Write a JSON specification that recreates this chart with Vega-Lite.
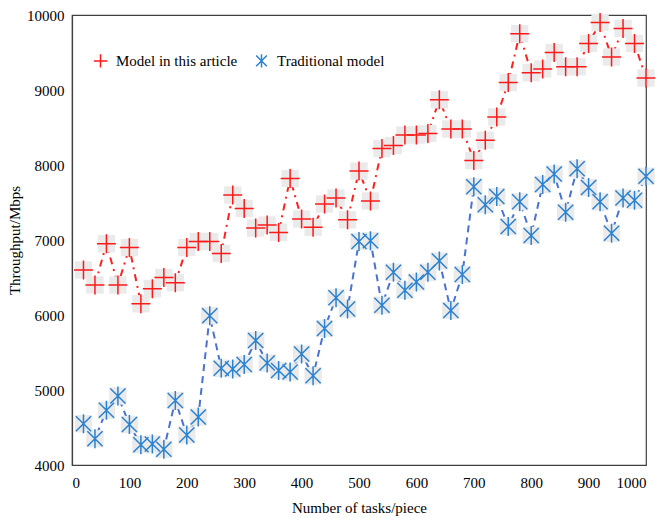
{
  "$schema": "https://vega.github.io/schema/vega-lite/v6.json",
  "autosize": "none",
  "width": 574,
  "height": 450,
  "padding": {"left": 72, "top": 15, "right": 15, "bottom": 53},
  "background": "white",
  "config": {
    "view": {"stroke": "#404040", "strokeWidth": 1.2},
    "font": "Times New Roman",
    "axis": {"labelFont": "Times New Roman", "titleFont": "Times New Roman", "labelFontSize": 15, "titleFontSize": 15, "titleFontWeight": "normal", "labelColor": "#000", "titleColor": "#000", "grid": false, "ticks": false, "domainColor": "#404040", "domainWidth": 1.2, "format": "d"},
    "legend": {"labelFont": "Times New Roman"}
  },
  "data": {"values": [
    {"x":20,"series":"Model in this article","y":6600},{"x":40,"series":"Model in this article","y":6400},{"x":60,"series":"Model in this article","y":6950},{"x":80,"series":"Model in this article","y":6400},{"x":100,"series":"Model in this article","y":6900},{"x":120,"series":"Model in this article","y":6150},{"x":140,"series":"Model in this article","y":6350},{"x":160,"series":"Model in this article","y":6500},{"x":180,"series":"Model in this article","y":6430},{"x":200,"series":"Model in this article","y":6900},{"x":220,"series":"Model in this article","y":6980},{"x":240,"series":"Model in this article","y":6980},{"x":260,"series":"Model in this article","y":6820},{"x":280,"series":"Model in this article","y":7600},{"x":300,"series":"Model in this article","y":7420},{"x":320,"series":"Model in this article","y":7160},{"x":340,"series":"Model in this article","y":7200},{"x":360,"series":"Model in this article","y":7100},{"x":380,"series":"Model in this article","y":7820},{"x":400,"series":"Model in this article","y":7280},{"x":420,"series":"Model in this article","y":7170},{"x":440,"series":"Model in this article","y":7480},{"x":460,"series":"Model in this article","y":7560},{"x":480,"series":"Model in this article","y":7270},{"x":500,"series":"Model in this article","y":7920},{"x":520,"series":"Model in this article","y":7520},{"x":540,"series":"Model in this article","y":8220},{"x":560,"series":"Model in this article","y":8260},{"x":580,"series":"Model in this article","y":8400},{"x":600,"series":"Model in this article","y":8400},{"x":620,"series":"Model in this article","y":8420},{"x":640,"series":"Model in this article","y":8870},{"x":660,"series":"Model in this article","y":8480},{"x":680,"series":"Model in this article","y":8480},{"x":700,"series":"Model in this article","y":8060},{"x":720,"series":"Model in this article","y":8330},{"x":740,"series":"Model in this article","y":8640},{"x":760,"series":"Model in this article","y":9100},{"x":780,"series":"Model in this article","y":9750},{"x":800,"series":"Model in this article","y":9230},{"x":820,"series":"Model in this article","y":9280},{"x":840,"series":"Model in this article","y":9500},{"x":860,"series":"Model in this article","y":9310},{"x":880,"series":"Model in this article","y":9310},{"x":900,"series":"Model in this article","y":9620},{"x":920,"series":"Model in this article","y":9900},{"x":940,"series":"Model in this article","y":9440},{"x":960,"series":"Model in this article","y":9820},{"x":980,"series":"Model in this article","y":9620},{"x":1000,"series":"Model in this article","y":9160},
    {"x":20,"series":"Traditional model","y":4550},{"x":40,"series":"Traditional model","y":4350},{"x":60,"series":"Traditional model","y":4730},{"x":80,"series":"Traditional model","y":4920},{"x":100,"series":"Traditional model","y":4540},{"x":120,"series":"Traditional model","y":4270},{"x":140,"series":"Traditional model","y":4280},{"x":160,"series":"Traditional model","y":4210},{"x":180,"series":"Traditional model","y":4860},{"x":200,"series":"Traditional model","y":4400},{"x":220,"series":"Traditional model","y":4640},{"x":240,"series":"Traditional model","y":5990},{"x":260,"series":"Traditional model","y":5290},{"x":280,"series":"Traditional model","y":5280},{"x":300,"series":"Traditional model","y":5340},{"x":320,"series":"Traditional model","y":5660},{"x":340,"series":"Traditional model","y":5360},{"x":360,"series":"Traditional model","y":5260},{"x":380,"series":"Traditional model","y":5240},{"x":400,"series":"Traditional model","y":5480},{"x":420,"series":"Traditional model","y":5190},{"x":440,"series":"Traditional model","y":5820},{"x":460,"series":"Traditional model","y":6230},{"x":480,"series":"Traditional model","y":6080},{"x":500,"series":"Traditional model","y":6980},{"x":520,"series":"Traditional model","y":6990},{"x":540,"series":"Traditional model","y":6130},{"x":560,"series":"Traditional model","y":6570},{"x":580,"series":"Traditional model","y":6330},{"x":600,"series":"Traditional model","y":6440},{"x":620,"series":"Traditional model","y":6570},{"x":640,"series":"Traditional model","y":6720},{"x":660,"series":"Traditional model","y":6060},{"x":680,"series":"Traditional model","y":6540},{"x":700,"series":"Traditional model","y":7710},{"x":720,"series":"Traditional model","y":7470},{"x":740,"series":"Traditional model","y":7580},{"x":760,"series":"Traditional model","y":7180},{"x":780,"series":"Traditional model","y":7510},{"x":800,"series":"Traditional model","y":7060},{"x":820,"series":"Traditional model","y":7740},{"x":840,"series":"Traditional model","y":7880},{"x":860,"series":"Traditional model","y":7370},{"x":880,"series":"Traditional model","y":7950},{"x":900,"series":"Traditional model","y":7700},{"x":920,"series":"Traditional model","y":7510},{"x":940,"series":"Traditional model","y":7090},{"x":960,"series":"Traditional model","y":7560},{"x":980,"series":"Traditional model","y":7530},{"x":1000,"series":"Traditional model","y":7850}
  ]},
  "encoding": {
    "x": {"field": "x", "type": "quantitative", "scale": {"domain": [0, 1000], "nice": false}, "axis": {"values": [0,100,200,300,400,500,600,700,800,900,1000], "format": "d", "title": "Number of tasks/piece", "labelPadding": 10, "titlePadding": 10}},
    "y": {"field": "y", "type": "quantitative", "scale": {"domain": [4000, 10000], "nice": false, "zero": false}, "axis": {"values": [4000,5000,6000,7000,8000,9000,10000], "format": "d", "title": "Throughput/Mbps", "labelPadding": 8, "titlePadding": 4}}
  },
  "layer": [
    {
      "transform": [{"filter": "datum.series === 'Model in this article'"}],
      "mark": {"type": "line", "color": "#ff2020", "strokeWidth": 2, "strokeDash": [7, 5, 2, 5]}
    },
    {
      "transform": [{"filter": "datum.series === 'Traditional model'"}],
      "mark": {"type": "line", "color": "#4a72d0", "strokeWidth": 2, "strokeDash": [7, 5]}
    },
    {
      "mark": {"type": "point", "shape": "square", "filled": true, "color": "#eaeaea", "opacity": 1, "size": 300}
    },
    {
      "mark": {"type": "point", "filled": false, "strokeWidth": 1.5, "size": 360, "opacity": 1},
      "encoding": {
        "color": {"field": "series", "type": "nominal", "scale": {"domain": ["Model in this article", "Traditional model"], "range": ["#ff1a1a", "#2a82d0"]}, "legend": {"title": null, "orient": "none", "legendX": 21, "legendY": 38, "direction": "horizontal", "labelFont": "Times New Roman", "labelFontSize": 15, "labelColor": "#000", "labelOffset": 8, "symbolSize": 180, "symbolStrokeWidth": 1.5, "columnPadding": 15}},
        "shape": {"field": "series", "type": "nominal", "scale": {"domain": ["Model in this article", "Traditional model"], "range": ["M-1,0L1,0M0,-1L0,1", "M-0.8,-0.8L0.8,0.8M-0.8,0.8L0.8,-0.8M0,-1L0,1"]}}
      }
    }
  ]
}
